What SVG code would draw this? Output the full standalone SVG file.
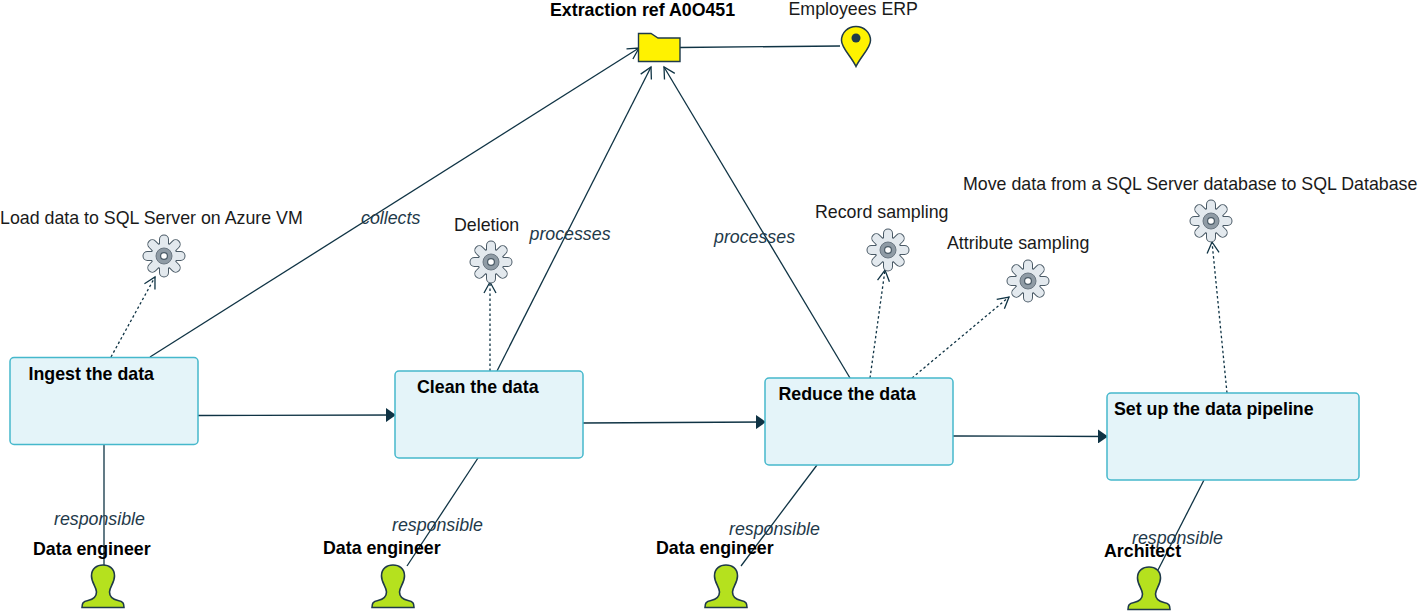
<svg xmlns="http://www.w3.org/2000/svg" xmlns:xlink="http://www.w3.org/1999/xlink" width="1423" height="612" viewBox="0 0 1423 612">
<style>
text{font-family:"Liberation Sans",Arial,sans-serif;font-size:17.8px;fill:#1a1a1a}
.b{font-weight:bold;fill:#000}
.i{font-style:italic;fill:#1f3a4a}
.box{fill:#e4f4f9;stroke:#45b8cc;stroke-width:1.5}
.c{fill:none;stroke:#0f3344;stroke-width:1.3}
.d{fill:none;stroke:#0f3344;stroke-width:1.3;stroke-dasharray:2.5 2.5}
</style>
<defs>
<marker id="open" markerWidth="14" markerHeight="14" refX="12" refY="7" orient="auto" markerUnits="userSpaceOnUse"><path d="M1 1L12 7L1 13" fill="none" stroke="#0f3344" stroke-width="1.3"/></marker>
<marker id="fill" markerWidth="12" markerHeight="14" refX="10" refY="7" orient="auto" markerUnits="userSpaceOnUse"><path d="M0 0L10 7L0 14Z" fill="#0f3344"/></marker>
<g id="gearShape"><rect x="-4" y="-20.500" width="8" height="41" rx="4"/><rect x="-4" y="-20.500" width="8" height="41" rx="4" transform="rotate(45)"/><rect x="-4" y="-20.500" width="8" height="41" rx="4" transform="rotate(90)"/><rect x="-4" y="-20.500" width="8" height="41" rx="4" transform="rotate(135)"/><circle r="12.500"/></g>
<g id="gear">
<use href="#gearShape" fill="#4a5a66" stroke="#4a5a66" stroke-width="2"/>
<use href="#gearShape" fill="#e3e9ee"/>
<circle r="8" fill="#8f9ba5" stroke="#6b7782" stroke-width="1"/>
<circle r="3.400" fill="#fff" stroke="#4a5a66" stroke-width="1.200"/>
</g>
<path id="person" d="M-21 21.500C-21 17 -20 15.500 -15 14.500C-8 13 -6.500 10 -6.500 6C-6.500 1 -11.500 -3 -11.500 -10C-11.500 -17.500 -6 -21 0 -21C6 -21 11.500 -17.500 11.500 -10C11.500 -3 6.500 1 6.500 6C6.500 10 8 13 15 14.500C20 15.500 21 17 21 21.500Z" fill="#b5e11e" stroke="#1f3a4a" stroke-width="1.600"/>
</defs>
<g id="connectors">
<path class="c" d="M680 47.500L840 46"/>
<path class="c" d="M150 357L639 48" marker-end="url(#open)"/>
<path class="c" d="M497 371L651 67" marker-end="url(#open)"/>
<path class="c" d="M850 378L664 67" marker-end="url(#open)"/>
<path class="d" d="M111 357L155 277" marker-end="url(#open)"/>
<path class="d" d="M490 371L490 282" marker-end="url(#open)"/>
<path class="d" d="M870 378L885 270" marker-end="url(#open)"/>
<path class="d" d="M912 378L1009 297" marker-end="url(#open)"/>
<path class="d" d="M1227 393L1212 242" marker-end="url(#open)"/>
<path class="c" d="M198 415.500L396 415" marker-end="url(#fill)"/>
<path class="c" d="M583 423L766 422" marker-end="url(#fill)"/>
<path class="c" d="M953 436L1108 436.500" marker-end="url(#fill)"/>
<path class="c" d="M104 445L104 567"/>
<path class="c" d="M478 458L407 566"/>
<path class="c" d="M817 465L741 566"/>
<path class="c" d="M1204 480L1158 570"/>
</g>
<g id="n-ingest"><rect class="box" x="10" y="357.500" width="188" height="87" rx="4"/><text class="b" x="28.500" y="380">Ingest the data</text></g>
<g id="n-clean"><rect class="box" x="395" y="371" width="188" height="87" rx="4"/><text class="b" x="417" y="393">Clean the data</text></g>
<g id="n-reduce"><rect class="box" x="765" y="378" width="188" height="87" rx="4"/><text class="b" x="778.500" y="400">Reduce the data</text></g>
<g id="n-pipeline"><rect class="box" x="1107" y="393" width="252" height="87" rx="4"/><text class="b" x="1114" y="415">Set up the data pipeline</text></g>
<g id="n-extraction"><path d="M638.500 61.500V33.500H651L658 38H680V61.500Z" fill="#fff200" stroke="#1f3a4a" stroke-width="1.400"/><text class="b" x="550" y="15.500">Extraction ref A0O451</text></g>
<g id="n-erp"><path d="M856 66.500C851 56 841.500 48 841.500 40.500C841.500 32.500 848 26.500 856 26.500C864 26.500 870.500 32.500 870.500 40.500C870.500 48 861 56 856 66.500Z" fill="#fff200" stroke="#1f3a4a" stroke-width="1.500"/><circle cx="856" cy="38" r="4.500" fill="#1f3a4a"/><text x="788.500" y="15">Employees ERP</text></g>
<g id="n-load"><use href="#gear" x="164" y="256"/><text x="0" y="224">Load data to SQL Server on Azure VM</text></g>
<g id="n-deletion"><use href="#gear" x="491" y="262"/><text x="454" y="231">Deletion</text></g>
<g id="n-record"><use href="#gear" x="888" y="250"/><text x="815" y="218">Record sampling</text></g>
<g id="n-attr"><use href="#gear" x="1028" y="281"/><text x="947" y="249">Attribute sampling</text></g>
<g id="n-move"><use href="#gear" x="1211" y="221"/><text x="963" y="190">Move data from a SQL Server database to SQL Database</text></g>
<g id="n-p1"><use href="#person" x="103" y="586"/><text class="b" x="33" y="555">Data engineer</text></g>
<g id="n-p2"><use href="#person" x="393" y="586"/><text class="b" x="323" y="554">Data engineer</text></g>
<g id="n-p3"><use href="#person" x="726" y="586"/><text class="b" x="656" y="554">Data engineer</text></g>
<g id="n-p4"><use href="#person" x="1149" y="588"/><text class="b" x="1104" y="557">Architect</text></g>
<g id="labels">
<text class="i" x="361" y="224">collects</text>
<text class="i" x="529.500" y="240">processes</text>
<text class="i" x="714" y="243">processes</text>
<text class="i" x="54" y="525">responsible</text>
<text class="i" x="392" y="531">responsible</text>
<text class="i" x="729" y="535">responsible</text>
<text class="i" x="1132" y="544">responsible</text>
</g>
</svg>
